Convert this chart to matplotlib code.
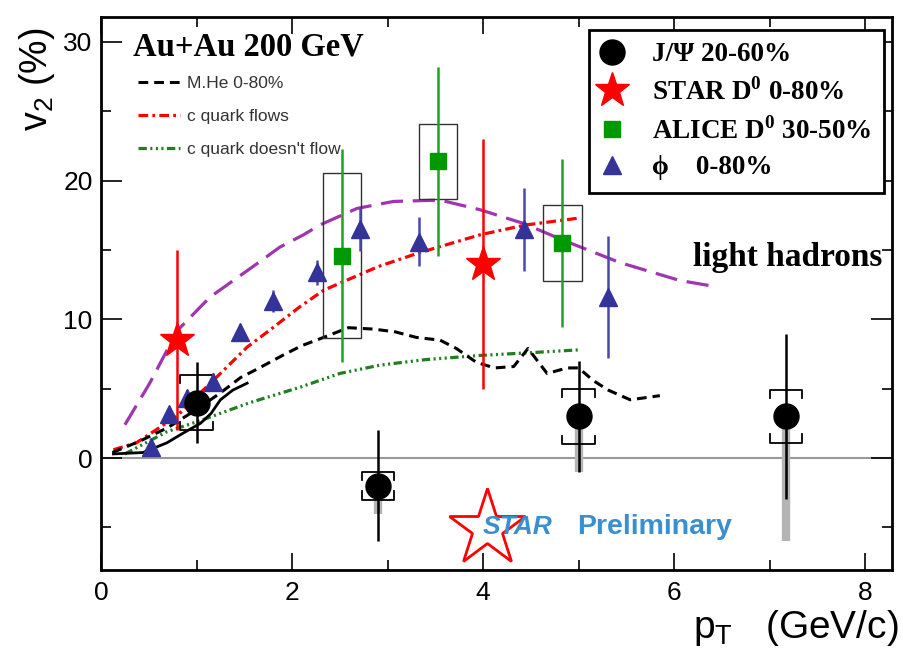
import matplotlib
matplotlib.use("Agg")
import matplotlib.pyplot as plt
from matplotlib.lines import Line2D
from matplotlib.patches import Rectangle
from matplotlib.ticker import MultipleLocator

plt.rcParams['font.family'] = ['Liberation Sans', 'DejaVu Sans']
plt.rcParams['mathtext.fontset'] = 'custom'
plt.rcParams['mathtext.rm'] = 'Liberation Sans'
plt.rcParams['mathtext.sf'] = 'Liberation Sans'
plt.rcParams['mathtext.bf'] = 'Liberation Serif:bold'
plt.rcParams['lines.scale_dashes'] = False

# J/psi 20-60%
jpsi_pt = [1.0, 2.9, 5.0, 7.17]
jpsi_v2 = [4.0, -2.0, 3.0, 3.0]
jpsi_stat = [2.9, 4.0, 4.0, 5.95]
jpsi_sys = [2.0, 1.0, 2.0, 1.9]
jpsi_nonflow = [0.0, 2.0, 4.0, 9.0]

# STAR D0 0-80%
stard_pt = [0.80, 4.0]
stard_v2 = [8.5, 14.0]
stard_err = [6.5, 9.0]

# ALICE D0 30-50%
alice_pt = [2.52, 3.53, 4.83]
alice_v2 = [14.6, 21.4, 15.5]
alice_stat = [7.65, 6.8, 6.05]
alice_sys = [5.95, 2.7, 2.75]

# phi 0-80%
phi_pt = [0.52, 0.71, 0.90, 1.17, 1.46, 1.80, 2.26, 2.71, 3.33, 4.43, 5.31]
phi_v2 = [0.8, 3.2, 4.3, 5.5, 9.1, 11.3, 13.4, 16.5, 15.6, 16.5, 11.6]
phi_err = [0.3, 0.5, 0.6, 0.6, 0.6, 0.8, 0.9, 1.55, 1.75, 3.0, 4.4]

# model curves
lh_pt = [0.25, 0.51, 0.80, 1.14, 1.63, 1.87, 2.12, 2.29, 2.68, 3.06, 3.55, 3.97, 4.43, 4.84, 5.43, 6.06, 6.4]
lh_v2 = [2.4, 5.4, 9.2, 11.6, 14.0, 15.2, 16.1, 16.8, 18.0, 18.5, 18.6, 17.9, 16.9, 15.7, 14.1, 12.8, 12.4]

cflow_pt = [0.13, 0.37, 0.79, 1.04, 1.25, 1.53, 1.8, 2.08, 2.33, 2.9, 3.33, 3.97, 4.44, 5.0]
cflow_v2 = [0.6, 1.1, 3.0, 4.7, 6.1, 8.0, 9.4, 10.9, 12.1, 13.8, 14.8, 16.1, 16.8, 17.3]

cnoflow_pt = [0.25, 0.69, 1.04, 1.56, 2.08, 2.5, 2.92, 3.4, 3.97, 4.5, 5.0]
cnoflow_v2 = [0.3, 1.9, 2.7, 4.0, 5.1, 6.1, 6.7, 7.1, 7.4, 7.6, 7.8]

mhe_pt = [0.12, 0.4, 0.7, 1.0, 1.25, 1.46, 1.63, 1.9, 2.1, 2.33, 2.59, 2.85, 3.08, 3.3, 3.55,
          3.72, 3.93, 4.12, 4.32, 4.47, 4.67, 4.88, 5.0, 5.15, 5.31, 5.54, 5.85]
mhe_v2 = [0.4, 1.2, 2.2, 3.5, 4.7, 5.8, 6.4, 7.4, 8.1, 8.7, 9.4, 9.3, 9.1, 8.7, 8.5,
          7.9, 6.9, 6.5, 6.6, 7.9, 6.1, 6.5, 6.5, 5.6, 4.9, 4.2, 4.5]

solid_pt = [0.13, 0.44, 0.69, 0.86, 1.04, 1.15, 1.25, 1.38, 1.53]
solid_v2 = [0.3, 0.4, 1.1, 1.8, 2.5, 3.2, 4.2, 4.9, 5.4]

fig = plt.figure(figsize=(9.04, 6.53), dpi=100)
ax = fig.add_axes([101 / 904, 83 / 653, 791 / 904, 553 / 653])
ax.set_xlim(0, 8.28)
ax.set_ylim(-8.07, 31.8)

ax.axhline(0, color='#999999', lw=1.5, zorder=1)

# curves
ax.plot(lh_pt, lh_v2, color='#a035b0', lw=2.3, ls=(0, (16, 7)), zorder=2)
c1, = ax.plot(cflow_pt, cflow_v2, color='red', lw=2.3, ls=(0, (7, 3, 2, 3)), zorder=2)
c2, = ax.plot(cnoflow_pt, cnoflow_v2, color='#1f7f1f', lw=2.3,
              ls=(0, (6, 2.5, 1.5, 2.5, 1.5, 2.5, 1.5, 2.5)), zorder=2)
c0, = ax.plot(mhe_pt, mhe_v2, color='black', lw=2.2, ls=(0, (7, 4.3)), zorder=2)
ax.plot(solid_pt, solid_v2, color='black', lw=2.0, zorder=2)

# J/psi: non-flow band, brackets, stat errors
for x, y, nf in zip(jpsi_pt, jpsi_v2, jpsi_nonflow):
    if nf > 0:
        ax.vlines(x, y - nf, y, color='#b4b4b4', lw=6, zorder=3)
bw, bh = 0.17, 0.6
for x, y, s in zip(jpsi_pt, jpsi_v2, jpsi_sys):
    top = y + s
    bot = y - s
    ax.plot([x - bw, x - bw, x + bw, x + bw], [top - bh, top, top, top - bh],
            color='black', lw=1.3, zorder=4)
    ax.plot([x - bw, x - bw, x + bw, x + bw], [bot + bh, bot, bot, bot + bh],
            color='black', lw=1.3, zorder=4)
ax.errorbar(jpsi_pt, jpsi_v2, yerr=jpsi_stat, fmt='o', color='black', ms=18,
            elinewidth=1.8, capsize=0, zorder=6)

# ALICE systematic boxes
for x, y, s in zip(alice_pt, alice_v2, alice_sys):
    ax.add_patch(Rectangle((x - 0.2, y - s), 0.4, 2 * s, fill=False,
                           ec='#333333', lw=1.0, zorder=3))
ax.errorbar(alice_pt, alice_v2, yerr=alice_stat, fmt='s', color='#22a022', mfc='#009900',
            mec='#009900', ms=12, elinewidth=1.8, capsize=0, zorder=5)

ax.errorbar(phi_pt, phi_v2, yerr=phi_err, fmt='^', color='#4848b0', mfc='#333399',
            mec='#333399', ms=13, elinewidth=1.8, capsize=0, zorder=5)

ax.errorbar(stard_pt, stard_v2, yerr=stard_err, fmt='*', color='red', ms=26,
            elinewidth=1.8, capsize=0, zorder=5)

# axes styling
for sp in ax.spines.values():
    sp.set_linewidth(2.0)
ax.xaxis.set_major_locator(MultipleLocator(2))
ax.xaxis.set_minor_locator(MultipleLocator(1))
ax.yaxis.set_major_locator(MultipleLocator(10))
ax.yaxis.set_minor_locator(MultipleLocator(5))
ax.tick_params(which='both', direction='in', top=True, right=True, width=1.2, labelsize=19)
ax.tick_params(axis='x', which='major', length=12, pad=8)
ax.tick_params(axis='x', which='minor', length=7)
ax.tick_params(axis='y', which='major', length=15, pad=6)
ax.tick_params(axis='y', which='minor', length=7)

ax.set_xlabel(r'p$_{\mathsf{T}}$   (GeV/c)', fontsize=28, loc='right')
ax.xaxis.set_label_coords(1.008, -0.068)
ax.set_ylabel(r'v$_{\mathsf{2}}$ (%)', fontsize=27, loc='top')
ax.yaxis.set_label_coords(-0.056, 0.98)

ax.text(0.04, 0.946, 'Au+Au 200 GeV', transform=ax.transAxes, fontsize=23.5,
        family='Liberation Serif', weight='bold', va='center', ha='left')
ax.text(0.748, 0.566, 'light hadrons', transform=ax.transAxes, fontsize=24,
        family='Liberation Serif', weight='bold', va='center', ha='left')

# STAR logo
ax.plot([0.488], [0.0759], marker='*', ms=58, mfc='none', mec='red', mew=2.0,
        transform=ax.transAxes, clip_on=False)
ax.text(0.483, 0.0778, 'STAR', transform=ax.transAxes, fontsize=19, style='italic',
        weight='bold', color='#3a8fd0', va='center', ha='left')
ax.text(0.602, 0.0778, 'Preliminary', transform=ax.transAxes, fontsize=20.5,
        weight='bold', color='#3a8fd0', va='center', ha='left')

# data legend
h_jpsi = Line2D([], [], ls='none', marker='o', color='black', ms=18)
h_stard = Line2D([], [], ls='none', marker='*', color='red', ms=26)
h_alice = Line2D([], [], ls='none', marker='s', color='#009900', ms=12)
h_phi = Line2D([], [], ls='none', marker='^', color='#333399', ms=13)
leg1 = ax.legend([h_jpsi, h_stard, h_alice, h_phi],
                 ['J/Ψ 20-60%', r'STAR D$^{\mathbf{0}}$ 0-80%',
                  r'ALICE D$^{\mathbf{0}}$ 30-50%', 'ϕ    0-80%'],
                 loc='upper right', bbox_to_anchor=(0.99, 0.9765), borderaxespad=0,
                 prop={'family': ['Liberation Serif', 'DejaVu Serif'], 'weight': 'bold', 'size': 19.5},
                 frameon=True, fancybox=False, edgecolor='black', framealpha=1,
                 borderpad=0.45, handlelength=0.85, handletextpad=1.05, labelspacing=0.4)
leg1.get_frame().set_linewidth(2.0)
ax.add_artist(leg1)

# model legend
ax.legend([c0, c1, c2], ['M.He 0-80%', 'c quark flows', "c quark doesn't flow"],
          loc='upper left', bbox_to_anchor=(0.0468, 0.8936), borderaxespad=0, borderpad=0,
          frameon=False, fontsize=12.5, labelcolor='#333333',
          handlelength=2.4, handletextpad=0.4, labelspacing=1.04)

fig.savefig('out.png', dpi=100)
